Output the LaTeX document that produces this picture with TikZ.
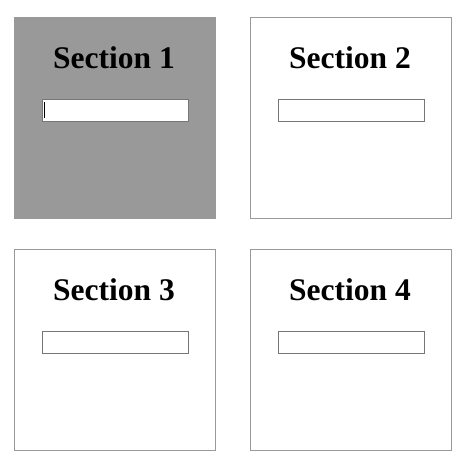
\documentclass[tikz,border=0pt]{standalone}
\usepackage{fontspec}
\setmainfont{Liberation Serif}
\definecolor{boxgray}{HTML}{999999}
\definecolor{inputgray}{HTML}{767676}
\begin{document}
\begin{tikzpicture}[x=1pt,y=-1pt,
  panel/.style={draw=boxgray,line width=1pt,fill=white,minimum width=201pt,minimum height=201pt,inner sep=0pt,anchor=north west},
  title/.style={font=\fontsize{31.5}{36}\selectfont\bfseries,anchor=base,inner sep=0pt},
  field/.style={draw=inputgray,line width=1pt,fill=white,minimum width=146pt,minimum height=22pt,inner sep=0pt,anchor=north west}]
\useasboundingbox (0,0) rectangle (461,461);
\node[panel,fill=boxgray] (p1) at (13.5,16.5) {};
\node[panel] (p2) at (249.5,16.5) {};
\node[panel] (p3) at (13.5,248.5) {};
\node[panel] (p4) at (249.5,248.5) {};
\node[title] (t1) at (114,68) {Section 1};
\node[title] (t2) at (350,68) {Section 2};
\node[title] (t3) at (114,300) {Section 3};
\node[title] (t4) at (350,300) {Section 4};
\node[field] (f1) at (41.5,98.5) {};
\node[field] (f2) at (277.5,98.5) {};
\node[field] (f3) at (41.5,330.5) {};
\node[field] (f4) at (277.5,330.5) {};
\coordinate (c1) at (44.5,102);
\coordinate (c2) at (44.5,118);
\draw[line width=1pt,black] (c1) -- (c2);
\end{tikzpicture}
\end{document}
